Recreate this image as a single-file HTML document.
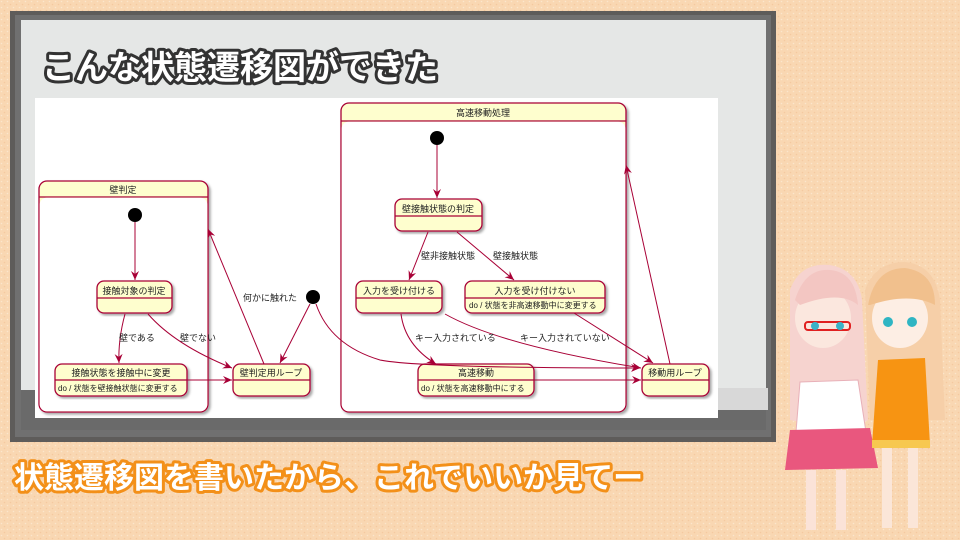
<!DOCTYPE html>
<html><head><meta charset="utf-8"><style>
html,body{margin:0;padding:0;width:960px;height:540px;overflow:hidden;background:#f9d7b2}
svg{display:block}
text{font-family:"Liberation Sans","Noto Sans CJK JP",sans-serif}
</style></head><body>
<svg width="960" height="540" viewBox="0 0 960 540" xmlns="http://www.w3.org/2000/svg">
<defs>
<pattern id="dots" width="6" height="6" patternUnits="userSpaceOnUse"><rect width="6" height="6" fill="#f9d7b2"/><circle cx="1.5" cy="1.5" r="0.8" fill="#fbe6cc"/><circle cx="4.5" cy="4.5" r="0.8" fill="#f4c9a0"/></pattern>
<marker id="ar" markerWidth="10" markerHeight="10" refX="9" refY="5" orient="auto" markerUnits="userSpaceOnUse"><path d="M0,1 L9,5 L0,9 L3,5 Z" fill="#a80036"/></marker>
<filter id="sh"><feDropShadow dx="2" dy="2" stdDeviation="1.2" flood-color="#000" flood-opacity="0.35"/></filter>
</defs>
<rect width="960" height="540" fill="url(#dots)"/>
<!-- board -->
<rect x="10" y="11" width="766" height="431" fill="#5e5c5a"/>
<rect x="15" y="15" width="756" height="422" fill="#707070"/>
<rect x="21" y="20" width="745" height="370" fill="#e5e7e6"/>
<rect x="21" y="390" width="745" height="40" fill="#6a6a6a"/>
<rect x="718" y="388" width="50" height="22" fill="#d8d8d8"/>
<!-- title -->
<text x="42" y="79" font-size="33" font-weight="bold" fill="#fff" stroke="#333" stroke-width="6" paint-order="stroke" stroke-linejoin="round">こんな状態遷移図ができた</text>
<!-- diagram area -->
<rect x="35" y="98" width="683" height="320" fill="#fff"/>
<g stroke="#a80036" stroke-width="1.3" fill="#fefece" font-size="9">
<!-- composites -->
<rect x="39" y="181" width="169" height="231" rx="8" filter="url(#sh)"/>
<line x1="39" y1="197" x2="208" y2="197"/>
<rect x="39.7" y="197.7" width="167.6" height="213.6" rx="7" fill="#fff" stroke="none"/>
<rect x="341" y="103" width="285" height="309" rx="8" filter="url(#sh)"/>
<line x1="341" y1="121" x2="626" y2="121"/>
<rect x="341.7" y="121.7" width="283.6" height="289.6" rx="7" fill="#fff" stroke="none"/>
<!-- states -->
<rect x="97" y="281" width="75" height="32" rx="7" filter="url(#sh)"/><line x1="97" y1="298" x2="172" y2="298"/>
<rect x="55" y="364" width="132" height="32" rx="7" filter="url(#sh)"/><line x1="55" y1="380" x2="187" y2="380"/>
<rect x="233" y="364" width="77" height="32" rx="7" filter="url(#sh)"/><line x1="233" y1="380" x2="310" y2="380"/>
<rect x="395" y="199" width="87" height="32" rx="7" filter="url(#sh)"/><line x1="395" y1="216" x2="482" y2="216"/>
<rect x="356" y="281" width="86" height="32" rx="7" filter="url(#sh)"/><line x1="356" y1="298" x2="442" y2="298"/>
<rect x="465" y="281" width="140" height="32" rx="7" filter="url(#sh)"/><line x1="465" y1="298" x2="605" y2="298"/>
<rect x="418" y="364" width="116" height="32" rx="7" filter="url(#sh)"/><line x1="418" y1="380" x2="534" y2="380"/>
<rect x="642" y="364" width="67" height="32" rx="7" filter="url(#sh)"/><line x1="642" y1="380" x2="709" y2="380"/>
</g>
<g fill="#000">
<circle cx="135" cy="215" r="7"/><circle cx="313" cy="297" r="7"/><circle cx="437" cy="138" r="7"/>
</g>
<!-- arrows -->
<g stroke="#a80036" stroke-width="1" fill="none" marker-end="url(#ar)">
<line x1="135" y1="222" x2="135" y2="280"/>
<path d="M125,314 Q118,340 119,363"/>
<path d="M148,314 Q175,345 232,368"/>
<line x1="187" y1="380" x2="232" y2="380"/>
<line x1="264" y1="364" x2="208" y2="229"/>
<line x1="310" y1="304" x2="280" y2="363"/>
<path d="M316,304 Q330,345 380,360 Q420,368 640,368"/>
<line x1="437" y1="145" x2="437" y2="198"/>
<line x1="428" y1="232" x2="409" y2="280"/>
<line x1="457" y1="232" x2="514" y2="280"/>
<path d="M401,314 Q405,345 436,364"/>
<path d="M445,314 Q500,345 641,368"/>
<line x1="574" y1="313" x2="653" y2="363"/>
<line x1="534" y1="380" x2="641" y2="380"/>
<line x1="670" y1="364" x2="626" y2="165"/>
</g>
<!-- labels -->
<g font-size="9" fill="#222">
<text x="123" y="193" text-anchor="middle">壁判定</text>
<text x="483" y="116" text-anchor="middle">高速移動処理</text>
<text x="134" y="294" text-anchor="middle">接触対象の判定</text>
<text x="121" y="376" text-anchor="middle">接触状態を接触中に変更</text>
<text x="58" y="391" font-size="8">do / 状態を壁接触状態に変更する</text>
<text x="271" y="376" text-anchor="middle">壁判定用ループ</text>
<text x="438" y="212" text-anchor="middle">壁接触状態の判定</text>
<text x="399" y="294" text-anchor="middle">入力を受け付ける</text>
<text x="535" y="294" text-anchor="middle">入力を受け付けない</text>
<text x="469" y="308" font-size="8">do / 状態を非高速移動中に変更する</text>
<text x="476" y="376" text-anchor="middle">高速移動</text>
<text x="421" y="391" font-size="8">do / 状態を高速移動中にする</text>
<text x="675" y="376" text-anchor="middle">移動用ループ</text>
<text x="119" y="341">壁である</text>
<text x="180" y="341">壁でない</text>
<text x="243" y="301">何かに触れた</text>
<text x="421" y="259">壁非接触状態</text>
<text x="493" y="259">壁接触状態</text>
<text x="415" y="341">キー入力されている</text>
<text x="520" y="341">キー入力されていない</text>
</g>
<!-- caption -->
<text x="14" y="488" font-size="30" font-weight="bold" fill="#fff" stroke="#f39019" stroke-width="6" paint-order="stroke" stroke-linejoin="round">状態遷移図を書いたから、これでいいか見てー</text>
<!-- characters (approximate) -->
<g>
<path d="M790,290 Q800,262 830,265 Q858,270 862,300 L868,420 L850,430 L790,420 Z" fill="#f6d3cf"/>
<ellipse cx="823" cy="318" rx="28" ry="30" fill="#fbe7de"/>
<path d="M795,300 Q805,268 830,270 Q855,272 858,305 Q840,290 800,305 Z" fill="#f3c6c2"/>
<rect x="805" y="322" width="45" height="8" rx="3" fill="none" stroke="#e02020" stroke-width="2"/>
<circle cx="815" cy="326" r="4" fill="#3bb3c8"/><circle cx="840" cy="326" r="4" fill="#3bb3c8"/>
<path d="M800,382 L858,380 L866,432 L796,432 Z" fill="#fff" stroke="#e8b0b8"/>
<path d="M790,430 L870,428 L878,468 L785,470 Z" fill="#e9577e"/>
<rect x="806" y="470" width="10" height="60" fill="#fbe3d8"/><rect x="836" y="470" width="10" height="60" fill="#fbe3d8"/>
<path d="M865,290 Q875,262 905,262 Q935,265 940,300 L945,420 L870,420 Z" fill="#f6cfa8"/>
<ellipse cx="900" cy="318" rx="28" ry="30" fill="#fdeee4"/>
<path d="M868,305 Q875,268 905,268 Q935,272 935,305 Q910,292 870,305 Z" fill="#f1c08d"/>
<circle cx="888" cy="322" r="5" fill="#2fb5c3"/><circle cx="912" cy="322" r="5" fill="#2fb5c3"/>
<path d="M878,360 L925,358 L930,445 L872,445 Z" fill="#f79412"/>
<rect x="872" y="440" width="58" height="8" fill="#f7c850"/>
<rect x="882" y="448" width="10" height="80" fill="#fbe6d8"/><rect x="908" y="448" width="10" height="80" fill="#fbe6d8"/>
</g>
</svg>
</body></html>
